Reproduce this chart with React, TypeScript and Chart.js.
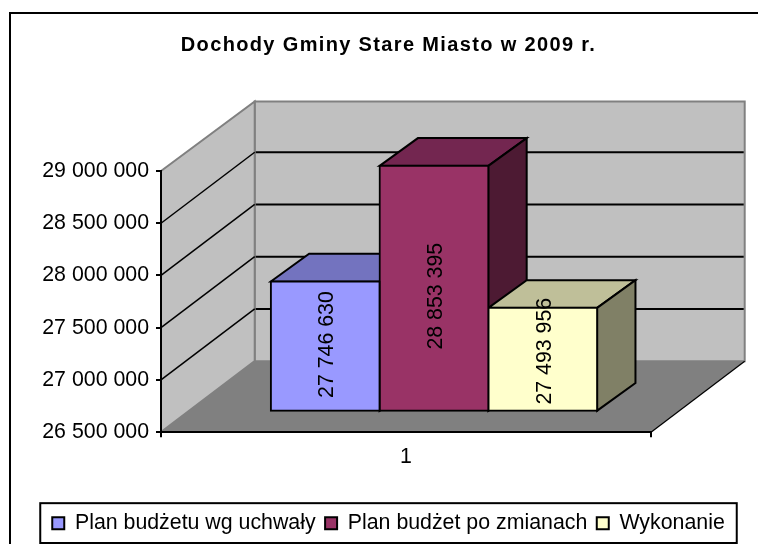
import React, { useEffect, useRef } from "react";
import { Chart, registerables } from "chart.js";

Chart.register(...registerables);

const titleText = "Dochody Gminy Stare Miasto w 2009 r.";
const categories = ["1"];
const seriesNames = ["Plan budżetu wg uchwały", "Plan budżet po zmianach", "Wykonanie"];
const planValues = [27746630];
const changedValues = [28853395];
const doneValues = [27493956];
const frontColors = ["#9999FF", "#993366", "#FFFFCC"];
const topColors = ["#7373BF", "#732650", "#BFBF99"];
const sideColors = ["#5C5C99", "#4D1A33", "#808066"];
const labelShift = [-1.5, 8, -8];

const FONT = '"Liberation Sans", Arial, sans-serif';
const WALL = { dx: 93.7, dy: -71 };
const BAR_OFFSET = { dx: 28, dy: -20.5 };
const BAR_DEPTH = { dx: 38.3, dy: -27.7 };

const fmt = (v: number) => String(Math.round(v)).replace(/\B(?=(\d{3})+(?!\d))/g, " ");

function poly(ctx: CanvasRenderingContext2D, pts: number[][], fill: string, stroke?: string, lw = 2) {
  ctx.beginPath();
  pts.forEach((p, i) => (i ? ctx.lineTo(p[0], p[1]) : ctx.moveTo(p[0], p[1])));
  ctx.closePath();
  ctx.fillStyle = fill;
  ctx.fill();
  if (stroke) {
    ctx.strokeStyle = stroke;
    ctx.lineWidth = lw;
    ctx.lineJoin = "miter";
    ctx.stroke();
  }
}

function seg(ctx: CanvasRenderingContext2D, x1: number, y1: number, x2: number, y2: number, c: string, lw: number) {
  ctx.beginPath();
  ctx.moveTo(x1, y1);
  ctx.lineTo(x2, y2);
  ctx.strokeStyle = c;
  ctx.lineWidth = lw;
  ctx.stroke();
}

const plot3d = {
  id: "plot3d",
  beforeDraw(chart: any) {
    const { ctx, chartArea: a, scales } = chart;
    const { left: l, right: r, top: t, bottom: b } = a;
    const { dx, dy } = WALL;
    const wallTop = t + dy + 1.5;

    if (!chart.titleBlock.__spaced) {
      const orig = chart.titleBlock.draw;
      chart.titleBlock.draw = function (...args: any[]) {
        ctx.save();
        (ctx as any).letterSpacing = "1.35px";
        orig.apply(this, args);
        ctx.restore();
      };
      chart.titleBlock.__spaced = true;
    }

    ctx.save();
    ctx.fillStyle = "#FFFFFF";
    ctx.fillRect(0, 0, chart.width, chart.height);
    ctx.strokeStyle = "#000";
    ctx.lineWidth = 2;
    ctx.strokeRect(10, 13, chart.width + 40, chart.height + 40);

    poly(ctx, [[l + dx, wallTop], [r + dx, wallTop], [r + dx, b + dy], [l + dx, b + dy]], "#C0C0C0", "#808080", 2);
    poly(ctx, [[l, t], [l + dx, wallTop], [l + dx, b + dy], [l, b]], "#C0C0C0", "#808080", 2);
    poly(ctx, [[l, b], [l + dx, b + dy], [r + dx, b + dy], [r, b]], "#808080");
    seg(ctx, r, b, r + dx, b + dy, "#000", 1.25);

    const y = scales.y;
    y.ticks.forEach((tk: any) => {
      if (tk.value <= y.min || tk.value >= y.max) return;
      const py = y.getPixelForValue(tk.value);
      seg(ctx, l, py, l + dx, py + dy, "#000", 1.5);
      seg(ctx, l + dx + 1, py + dy, r + dx - 1, py + dy, "#000", 2);
    });

    const hb = chart.legend.legendHitBoxes;
    if (hb && hb.length) {
      const last = hb[hb.length - 1];
      const left = hb[0].left - 12;
      const right = last.left + last.width + 12;
      const top = b + 71;
      const h = chart.height - 1 - top;
      ctx.fillStyle = "#fff";
      ctx.fillRect(left, top, right - left, h);
      ctx.strokeStyle = "#000";
      ctx.lineWidth = 2;
      ctx.strokeRect(left, top, right - left, h);
    }
    ctx.restore();
  },
  beforeDatasetsDraw(chart: any) {
    const { ctx } = chart;
    ctx.save();
    chart.data.datasets.forEach((_: any, i: number) => {
      const el = chart.getDatasetMeta(i).data[0];
      const x0 = el.x - el.width / 2 + BAR_OFFSET.dx;
      const x1 = el.x + el.width / 2 + BAR_OFFSET.dx;
      const top = el.y + BAR_OFFSET.dy;
      const bot = el.base + BAR_OFFSET.dy;
      const d = BAR_DEPTH;
      poly(ctx, [[x0, top], [x0 + d.dx, top + d.dy], [x1 + d.dx, top + d.dy], [x1, top]], topColors[i], "#000");
      poly(ctx, [[x1, top], [x1 + d.dx, top + d.dy], [x1 + d.dx, bot + d.dy], [x1, bot]], sideColors[i], "#000");
    });
    ctx.restore();
    ctx.save();
    ctx.translate(BAR_OFFSET.dx, BAR_OFFSET.dy);
  },
  afterDatasetsDraw(chart: any) {
    const { ctx } = chart;
    ctx.restore();
    ctx.save();
    ctx.fillStyle = "#000";
    ctx.font = `21.33px ${FONT}`;
    ctx.textAlign = "center";
    ctx.textBaseline = "middle";
    chart.data.datasets.forEach((ds: any, i: number) => {
      const el = chart.getDatasetMeta(i).data[0];
      const cx = el.x + BAR_OFFSET.dx + 2;
      const cy = (el.y + el.base) / 2 + BAR_OFFSET.dy + labelShift[i];
      ctx.save();
      ctx.translate(cx, cy);
      ctx.rotate(-Math.PI / 2);
      ctx.fillText(fmt(ds.data[0]), 0, 0);
      ctx.restore();
    });
    ctx.restore();
  },
};

export default function App() {
  const ref = useRef<HTMLCanvasElement>(null);
  useEffect(() => {
    const values = [planValues, changedValues, doneValues];
    const chart = new Chart(ref.current as HTMLCanvasElement, {
      type: "bar",
      data: {
        labels: categories,
        datasets: seriesNames.map((name, i) => ({
          label: name,
          data: values[i],
          base: 26500000,
          xAxisID: "x",
          yAxisID: "y",
          backgroundColor: frontColors[i],
          borderColor: "#000",
          borderWidth: 2,
          borderSkipped: false,
          inflateAmount: 1,
          clip: false,
        })),
      } as any,
      plugins: [plot3d],
      options: {
        responsive: false,
        animation: false,
        events: [],
        layout: { autoPadding: false, padding: { left: 19, right: 0, top: 0, bottom: 0 } },
        datasets: { bar: { categoryPercentage: 0.666, barPercentage: 1 } },
        plugins: {
          tooltip: { enabled: false },
          title: {
            display: true,
            text: titleText,
            color: "#000",
            font: { family: FONT, size: 20, weight: "bold" },
            padding: { top: 33, bottom: 114 },
          },
          legend: {
            position: "bottom",
            labels: {
              color: "#000",
              boxWidth: 12,
              boxHeight: 12,
              padding: 9.5,
              font: { family: FONT, size: 21.33 },
            },
          },
        },
        scales: {
          x: {
            afterFit: (s: any) => { s.height = 71; },
            grid: { offset: true, drawOnChartArea: false, color: "#000", lineWidth: 2, tickLength: 5 },
            border: { color: "#000", width: 2 },
            ticks: { color: "#000", padding: 7, font: { family: FONT, size: 21.33 } },
          },
          y: {
            min: 26500000,
            max: 29000000,
            afterFit: (s: any) => { s.width = 142; },
            grid: { drawOnChartArea: false, color: "#000", lineWidth: 2, tickLength: 5 },
            border: { color: "#000", width: 2 },
            ticks: {
              stepSize: 500000,
              color: "#000",
              padding: 7,
              font: { family: FONT, size: 21.33 },
              callback: (v: any) => fmt(Number(v)),
            },
          },
          y2: {
            type: "linear",
            position: "right",
            afterFit: (s: any) => { s.width = 107; },
            grid: { display: false },
            border: { display: false },
            ticks: { display: false },
          },
        },
      } as any,
    });
    return () => chart.destroy();
  }, []);
  return (
    <div style={{ position: "fixed", left: 0, top: 0, width: 758, height: 544 }}>
      <canvas ref={ref} width={758} height={544} style={{ display: "block" }} />
    </div>
  );
}
